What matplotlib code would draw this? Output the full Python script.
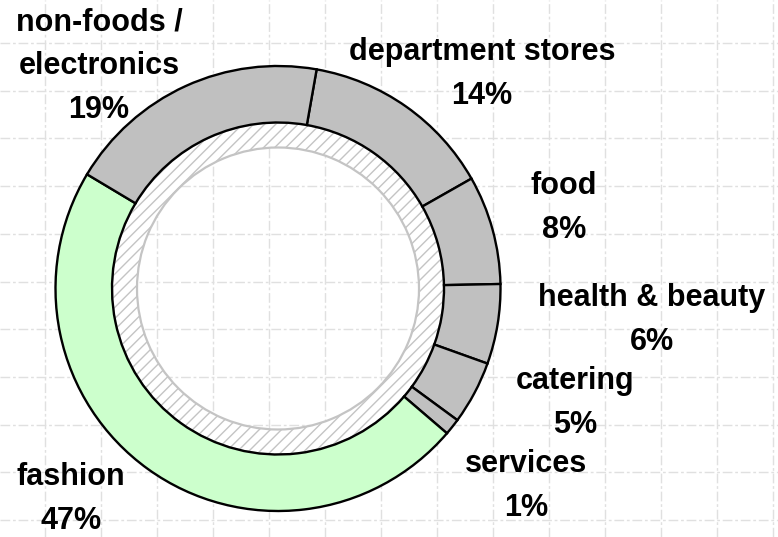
import numpy as np
import matplotlib
matplotlib.use('Agg')
import matplotlib.pyplot as plt

# data (clockwise from the top, starting at department stores)
segments = ['department stores', 'food', 'health & beauty', 'catering', 'services', 'fashion', 'non-foods /\nelectronics']
shares = [14.0, 7.9, 5.8, 4.6, 1.2, 47.3, 19.2]
colors = ['#c0c0c0', '#c0c0c0', '#c0c0c0', '#c0c0c0', '#c0c0c0', '#ccffcc', '#c0c0c0']

# label anchors in pixel coords (x, y from top)
label_pos = [(482, 74), (564, 208), (652, 320), (575, 403), (526, 486), (71, 499), (99, 66)]

W, H = 778, 537
fig = plt.figure(figsize=(W / 100, H / 100), dpi=100)
ax = fig.add_axes([0, 0, 1, 1])

cx, cy = 278, H - 288.5
r_out, r_in, r_hole = 222.5, 166, 141

# hatched inner ring
ax.pie([1], radius=r_in, center=(cx, cy), colors=['white'],
       wedgeprops=dict(width=r_in - r_hole, edgecolor='#c4c4c4', linewidth=1.6, hatch='///'))

# outer ring
ax.pie(shares, radius=r_out, center=(cx, cy), colors=colors, startangle=80, counterclock=False,
       wedgeprops=dict(width=r_out - r_in, edgecolor='black', linewidth=1.7))

for name, val, (px, py) in zip(segments, shares, label_pos):
    ax.text(px, H - py, f"{name}\n{round(val)}%", ha='center', va='center', fontsize=22,
            fontweight='bold', family=['Liberation Sans', 'DejaVu Sans'], linespacing=1.6)

ax.set_xlim(0, W)
ax.set_ylim(0, H)
ax.set_xticks(np.arange(45, W, 56))
ax.set_yticks(H - (43 + 47.7 * np.arange(11)))
ax.tick_params(length=0, labelbottom=False, labelleft=False)
ax.set_axisbelow(True)
ax.grid(True, color='#e0e0e0', linestyle=(0, (7, 2, 2, 2)), linewidth=1.0)
for s in ax.spines.values():
    s.set_visible(False)

fig.savefig('out.png', dpi=100)
